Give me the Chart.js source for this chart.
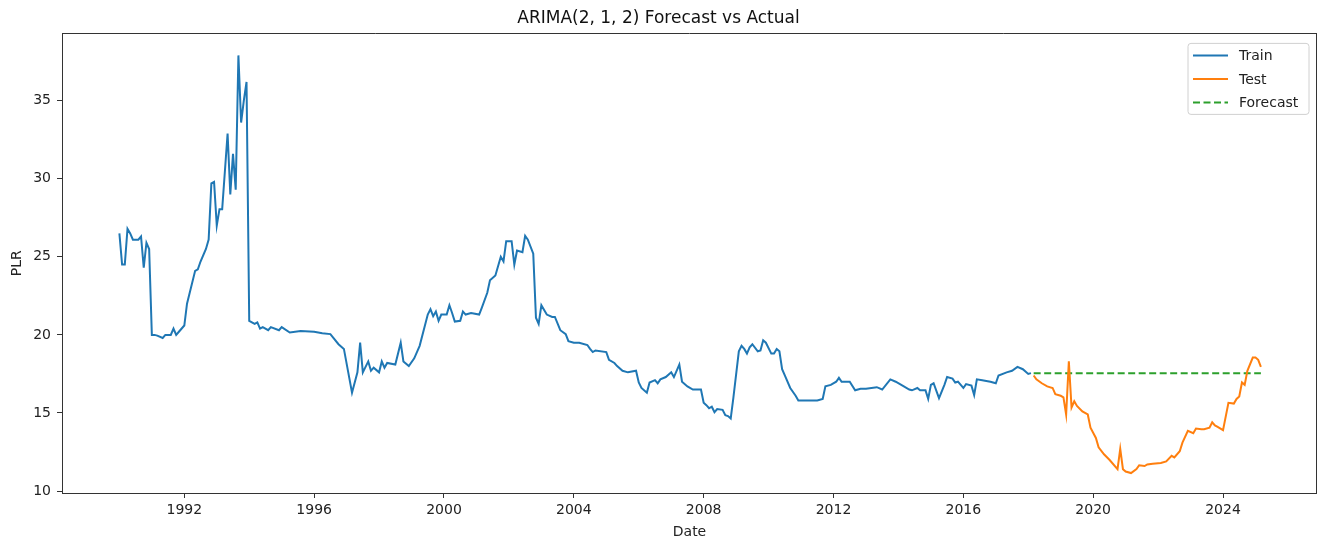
<!DOCTYPE html>
<html>
<head>
<meta charset="utf-8">
<script src="https://cdn.jsdelivr.net/npm/chart.js@4.4.1/dist/chart.umd.min.js"></script>
<style>
  html, body { margin: 0; padding: 0; background: #ffffff; }
  #wrap { width: 1317px; height: 541px; }
</style>
</head>
<body>
<div id="wrap"><canvas id="chart" width="1317" height="541"></canvas></div>
<script>
// Monthly prime lending rate (PLR), training window
const trainDates = [
  "1990-01","1990-02","1990-03","1990-04","1990-05","1990-06","1990-07","1990-08","1990-09","1990-10","1990-11","1990-12",
  "1991-01","1991-02","1991-03","1991-05","1991-06","1991-08","1991-09","1991-10","1991-11",
  "1992-01","1992-02","1992-05","1992-06","1992-07","1992-09","1992-10","1992-11","1992-12",
  "1993-01","1993-02","1993-03","1993-05","1993-06","1993-07","1993-08","1993-09","1993-10","1993-11","1993-12",
  "1994-01","1994-03","1994-04","1994-05","1994-06","1994-08","1994-09","1994-12",
  "1995-01","1995-04","1995-08",
  "1996-01","1996-04","1996-07","1996-10","1996-12",
  "1997-03","1997-05","1997-06","1997-07","1997-09","1997-10","1997-11",
  "1998-01","1998-02","1998-03","1998-04","1998-07","1998-09","1998-10","1998-12",
  "1999-02","1999-04","1999-07","1999-08","1999-09","1999-10","1999-11","1999-12",
  "2000-02","2000-03","2000-04","2000-05","2000-07","2000-08","2000-09","2000-11",
  "2001-02","2001-03","2001-05","2001-06","2001-08","2001-10","2001-11","2001-12",
  "2002-02","2002-03","2002-04","2002-06","2002-07","2002-08","2002-10","2002-11","2002-12",
  "2003-01","2003-03","2003-05","2003-06","2003-08","2003-10","2003-11",
  "2004-01","2004-03","2004-06","2004-07","2004-08","2004-09",
  "2005-01","2005-02","2005-04","2005-05","2005-07","2005-09","2005-12",
  "2006-01","2006-02","2006-04","2006-05","2006-07","2006-08","2006-09","2006-11",
  "2007-01","2007-02","2007-04","2007-05","2007-07","2007-09","2007-12",
  "2008-01","2008-02","2008-03","2008-04","2008-05","2008-06","2008-08","2008-09","2008-10","2008-11","2008-12",
  "2009-02","2009-03","2009-04","2009-05","2009-06","2009-07","2009-09","2009-10","2009-11","2009-12",
  "2010-02","2010-03","2010-04","2010-05","2010-06","2010-07","2010-09","2010-11","2010-12",
  "2011-03","2011-07","2011-09","2011-10","2011-12",
  "2012-02","2012-03","2012-04","2012-07","2012-09","2012-11",
  "2013-01","2013-05","2013-07","2013-10","2013-12",
  "2014-03","2014-05","2014-06","2014-08","2014-09","2014-11","2014-12",
  "2015-01","2015-02","2015-04","2015-06","2015-07","2015-09","2015-10","2015-11",
  "2016-01","2016-02","2016-04","2016-05","2016-06","2016-08","2016-11",
  "2017-01","2017-02","2017-05","2017-07","2017-09","2017-11",
  "2018-01","2018-02"
];
const trainValues = [
  26.5,24.5,24.5,26.8,26.5,26.1,26.1,26.1,26.3,24.3,25.9,25.5,
  20.0,20.0,19.95,19.8,20.0,20.0,20.4,20.0,20.2,
  20.6,22.0,24.1,24.2,24.7,25.5,26.1,29.7,29.8,
  27.0,28.05,28.05,32.9,29.0,31.6,29.3,37.9,33.6,35.0,36.2,
  20.9,20.7,20.8,20.4,20.5,20.3,20.5,20.3,
  20.5,20.15,20.25,
  20.2,20.1,20.05,19.4,19.1,
  16.3,17.6,19.5,17.6,18.3,17.7,17.9,
  17.6,18.3,17.9,18.2,18.1,19.5,18.3,18.0,
  18.5,19.3,21.3,21.65,21.2,21.5,20.9,21.3,
  21.3,21.9,21.4,20.85,20.9,21.5,21.3,21.4,
  21.3,21.75,22.7,23.5,23.8,25.0,24.7,26.0,
  26.0,24.5,25.4,25.3,26.35,26.1,25.2,21.1,20.7,
  21.9,21.3,21.15,21.15,20.3,20.05,19.6,
  19.5,19.5,19.35,19.1,18.9,19.0,
  18.9,18.4,18.2,18.0,17.7,17.6,17.7,
  16.95,16.6,16.3,16.95,17.1,16.9,17.15,17.3,
  17.6,17.3,18.1,17.0,16.7,16.5,16.5,
  15.65,15.5,15.3,15.4,15.05,15.25,15.2,14.85,14.8,14.65,16.0,
  18.95,19.3,19.1,18.8,19.2,19.4,18.95,19.0,19.65,19.5,
  18.8,18.8,19.1,18.95,17.8,17.4,16.6,16.1,15.8,
  15.8,15.8,15.9,16.7,16.8,
  17.0,17.25,17.0,17.0,16.45,16.55,
  16.55,16.65,16.5,17.15,17.0,
  16.7,16.5,16.45,16.6,16.45,16.45,15.9,
  16.8,16.9,15.95,16.8,17.3,17.2,16.95,17.0,
  16.6,16.85,16.75,16.15,17.15,17.1,17.0,
  16.9,17.4,17.6,17.7,17.95,17.8,
  17.5,17.55
];

// Held-out window
const testDates = [
  "2018-03","2018-04","2018-06","2018-08","2018-10","2018-11",
  "2019-01","2019-02","2019-03","2019-04","2019-05","2019-06","2019-07","2019-09","2019-11","2019-12",
  "2020-02","2020-03","2020-05","2020-07","2020-10","2020-11","2020-12",
  "2021-01","2021-03","2021-05","2021-06","2021-08","2021-09","2021-11",
  "2022-02","2022-04","2022-06","2022-07","2022-09","2022-10","2022-12",
  "2023-02","2023-03","2023-05","2023-06","2023-08","2023-09","2023-10","2023-11",
  "2024-01","2024-03","2024-05","2024-06","2024-07","2024-08","2024-09","2024-10","2024-12",
  "2025-01","2025-02","2025-03"
];
const testValues = [
  17.4,17.15,16.9,16.7,16.6,16.2,
  16.1,16.0,14.9,18.3,15.35,15.75,15.45,15.1,14.9,14.05,
  13.4,12.8,12.35,12.0,11.4,12.7,11.4,
  11.25,11.15,11.4,11.65,11.6,11.7,11.75,
  11.8,11.9,12.25,12.15,12.55,13.1,13.85,
  13.7,14.0,13.95,13.95,14.05,14.4,14.2,14.1,
  13.9,15.65,15.6,15.9,16.05,16.95,16.8,17.7,18.55,
  18.55,18.4,17.95
];

// ARIMA(2, 1, 2) forecast over the held-out window (flat)
const forecastDates = ["2018-03","2025-03"];
const forecastValues = [17.55,17.55];

// Axis ticks
const xTickYears = [1992,1996,2000,2004,2008,2012,2016,2020,2024];
const yTickValues = [10,15,20,25,30,35];

const FONT = "'DejaVu Sans', 'Liberation Sans', sans-serif";
const INK = '#222222';

function toYear(s) {
  const [y, m] = s.split('-').map(Number);
  return y + (m - 1) / 12;
}
function pairs(dates, values) {
  return dates.map((d, i) => ({ x: toYear(d), y: values[i] }));
}

// Top and right spines
const framePlugin = {
  id: 'frame',
  afterDraw(chart) {
    const { ctx, chartArea: a } = chart;
    ctx.save();
    ctx.strokeStyle = '#333333';
    ctx.lineWidth = 1;
    ctx.beginPath();
    ctx.moveTo(a.left, Math.round(a.top) + 0.5);
    ctx.lineTo(a.right, Math.round(a.top) + 0.5);
    ctx.moveTo(a.right - 0.5, a.top);
    ctx.lineTo(a.right - 0.5, a.bottom);
    ctx.stroke();
    ctx.restore();
  }
};

// Boxed legend in the upper right corner of the plot
const boxLegendPlugin = {
  id: 'boxLegend',
  afterDraw(chart) {
    const { ctx, chartArea: a } = chart;
    const x = a.right - 129, y = a.top + 10, w = 121, h = 71, r = 3;
    ctx.save();
    ctx.beginPath();
    ctx.moveTo(x + r, y);
    ctx.arcTo(x + w, y, x + w, y + h, r);
    ctx.arcTo(x + w, y + h, x, y + h, r);
    ctx.arcTo(x, y + h, x, y, r);
    ctx.arcTo(x, y, x + w, y, r);
    ctx.closePath();
    ctx.fillStyle = 'rgba(255,255,255,0.8)';
    ctx.fill();
    ctx.strokeStyle = '#d0d0d0';
    ctx.lineWidth = 1;
    ctx.stroke();
    ctx.font = '14px ' + FONT;
    ctx.textBaseline = 'middle';
    ctx.textAlign = 'left';
    chart.data.datasets.forEach((ds, i) => {
      const ly = y + 12 + i * 23.5;
      ctx.beginPath();
      ctx.setLineDash(ds.borderDash || []);
      ctx.strokeStyle = ds.borderColor;
      ctx.lineWidth = ds.borderWidth;
      ctx.moveTo(x + 5, ly);
      ctx.lineTo(x + 40, ly);
      ctx.stroke();
      ctx.setLineDash([]);
      ctx.fillStyle = INK;
      ctx.fillText(ds.label, x + 51, ly + 1);
    });
    ctx.restore();
  }
};

new Chart(document.getElementById('chart'), {
  type: 'line',
  data: {
    datasets: [
      { label: 'Train', data: pairs(trainDates, trainValues), borderColor: '#1f77b4', borderWidth: 2, pointRadius: 0, tension: 0, fill: false },
      { label: 'Test', data: pairs(testDates, testValues), borderColor: '#ff7f0e', borderWidth: 2, pointRadius: 0, tension: 0, fill: false },
      { label: 'Forecast', data: pairs(forecastDates, forecastValues), borderColor: '#2ca02c', borderWidth: 2, borderDash: [7, 3.5], pointRadius: 0, tension: 0, fill: false }
    ]
  },
  options: {
    responsive: false,
    devicePixelRatio: 1,
    animation: false,
    layout: { padding: { left: 0, right: 0, top: 0, bottom: 0 } },
    plugins: {
      legend: { display: false },
      tooltip: { enabled: false },
      title: {
        display: true,
        text: 'ARIMA(2, 1, 2) Forecast vs Actual',
        color: '#111111',
        font: { family: FONT, size: 17, weight: 'normal' },
        padding: { top: 8, bottom: 5 }
      }
    },
    scales: {
      x: {
        type: 'linear',
        min: 1988.232,
        max: 2026.895,
        afterBuildTicks(scale) { scale.ticks = xTickYears.map(v => ({ value: v })); },
        afterFit(scale) { scale.height = 48; },
        grid: { display: true, drawOnChartArea: false, drawTicks: true, tickLength: 5, color: '#333333', tickColor: '#333333' },
        border: { display: true, color: '#333333', width: 1 },
        ticks: { color: INK, font: { family: FONT, size: 14 }, padding: 4, maxRotation: 0, autoSkip: false, callback: v => String(v) },
        title: { display: true, text: 'Date', color: INK, font: { family: FONT, size: 14 }, padding: { top: 0, bottom: 0 } }
      },
      y: {
        type: 'linear',
        min: 9.872,
        max: 39.31,
        afterBuildTicks(scale) { scale.ticks = yTickValues.map(v => ({ value: v })); },
        afterFit(scale) { scale.width = 62; },
        grid: { display: true, drawOnChartArea: false, drawTicks: true, tickLength: 5, color: '#333333', tickColor: '#333333' },
        border: { display: true, color: '#333333', width: 1 },
        ticks: { color: INK, font: { family: FONT, size: 14 }, padding: 6, callback: v => String(v) },
        title: { display: true, text: 'PLR', color: INK, font: { family: FONT, size: 14 }, padding: { top: 9, bottom: 0 } }
      }
    }
  },
  plugins: [framePlugin, boxLegendPlugin]
});
</script>
</body>
</html>
